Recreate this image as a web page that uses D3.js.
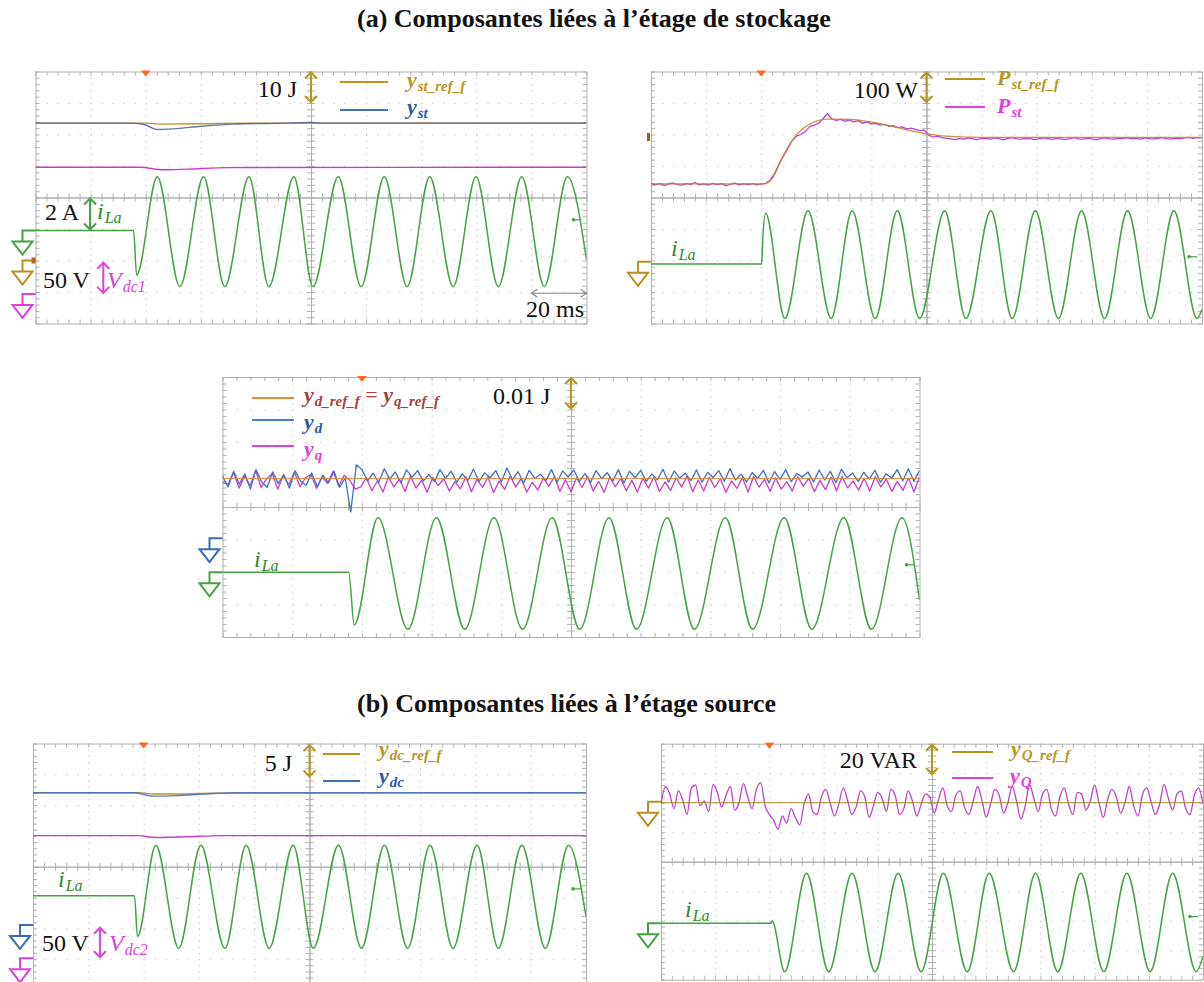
<!DOCTYPE html>
<html><head><meta charset="utf-8">
<script src="https://cdn.jsdelivr.net/npm/d3@7"></script>
<style>
body{margin:0;background:#fff;}
svg{display:block;}
</style></head><body>
<svg id="c" width="1204" height="982" font-family="'Liberation Serif','Times New Roman',serif"></svg>
<script>
// ================= DATA =================
const timeDomain = [0, 200];              // ms, 20 ms/div
const divDomain = [-4, 4];                // screen divisions
const gridTimeTicks = [20, 40, 60, 80, 120, 140, 160, 180];
const gridDivTicks = [-3, -2, -1, 1, 2, 3];
const minorTimeTicks = d3.range(0, 51).map(i => i * 4);
const minorDivTicks = d3.range(0, 41).map(i => -4 + i * 0.2);
const titles = ["(a) Composantes liées à l’étage de stockage", "(b) Composantes liées à l’étage source"];
const triggerTime = 40;

// --- panel (a) storage: y_st, V_dc1, i_La ---
const ystRef = [[0,2.36],[40,2.36],[45,2.33],[60,2.34],[75,2.36],[200,2.36]];
const yst = [[0,2.36],[35,2.36],[40,2.30],[44,2.16],[50,2.18],[60,2.26],[72,2.33],[90,2.36],[100,2.38],[104,2.36],[200,2.36]];
const vdc1 = [[0,0.96],[38,0.96],[46,0.88],[55,0.90],[70,0.95],[200,0.96]];
const iLaP1 = [[0,-1.05],[35.6,-1.05],[36.7,-2.46],[44.2,0.66],[52.4,-2.83],[61.0,0.66],[68.7,-2.83],[77.5,0.66],[84.7,-2.83],[93.8,0.66],[100.7,-2.83],[109.9,0.66],[118.2,-2.83],[126.6,0.66],[134.9,-2.83],[143.1,0.66],[151.6,-2.83],[159.9,0.66],[168.0,-2.83],[176.5,0.66],[184.7,-2.83],[193.1,0.66],[200,-1.98]];

// --- panel (a) storage power ---
const pstRef = [[0,0.43],[40.8,0.43],[44,0.6],[47.2,1.19],[51.4,1.83],[57,2.30],[64,2.49],[72.4,2.48],[82.2,2.36],[90.4,2.20],[100.4,2.02],[107.2,1.95],[121.3,1.91],[200,1.91]];
const pstVals = [0.45,0.40,0.44,0.38,0.43,0.46,0.41,0.39,0.44,0.42,0.47,0.40,0.43,0.39,0.45,0.41,0.44,0.38,0.42,0.46,0.40,0.43,0.41,0.44,0.40,0.43,
 0.45,0.55,0.75,1.05,1.30,1.55,1.80,1.95,2.00,2.10,2.25,2.30,2.35,2.50,2.66,
 2.50,2.45,2.48,2.42,2.46,2.40,2.44,2.36,2.40,2.33,2.35,2.30,2.32,2.26,2.28,2.22,2.24,2.18,2.20,2.16,2.12,2.14,
 1.98,1.92,1.95,1.90,1.88,1.86,1.84,1.87,1.85,1.89,1.86,1.84,1.88,1.87,1.85,1.89,1.86,1.83,1.88,1.90,1.86,1.85,1.88,1.87,1.84,1.86,1.89,1.87,1.85,1.88,1.86,1.84,1.87,1.90,1.86,1.85,1.88,1.86,1.83,1.87,1.89,1.86,1.85,1.88,1.87,1.90,1.86,1.88,1.85,1.89,1.87,1.86,1.88,1.90,1.87,1.85,1.88,1.86,1.89,1.91,1.88,1.90,1.89];
const iLaP2 = [[0,-2.11],[40.2,-2.11],[40.4,-1.6],[41.6,-0.5],[48.6,-3.84],[57.0,-0.42],[65.4,-3.84],[73.0,-0.42],[81.4,-3.84],[89.4,-0.42],[97.5,-3.84],[106.6,-0.42],[114.3,-3.84],[123.4,-0.42],[131.1,-3.84],[139.5,-0.42],[147.9,-3.84],[156.3,-0.42],[164.6,-3.84],[173.0,-0.42],[181.4,-3.84],[189.8,-0.42],[198.2,-3.84],[200,-3.55]];

// --- panel (a) dq components ---
const ydqRef = [[0,0.88],[200,0.88]];
const ydVals = [0.95,0.62,1.10,0.70,1.02,0.55,1.15,0.78,0.60,1.08,0.72,1.00,0.58,1.12,0.80,0.66,1.05,0.62,0.98,0.74,1.10,0.60,0.90,
 -0.15,1.30,
 1.15,0.80,1.04,0.76,1.18,0.86,1.08,0.74,1.14,0.92,1.12,0.80,1.00,0.78,1.15,0.88,1.10,0.76,1.02,0.82,1.16,0.79,1.05,0.90,1.12,0.77,1.20,0.84,1.09,0.74,
 1.13,0.88,1.01,0.81,1.15,0.76,1.11,0.92,1.14,0.79,1.03,0.75,1.12,0.87,1.06,0.80,1.15,0.74,1.10,0.90,1.13,0.79,1.02,0.84,1.16,0.76,1.11,0.89,1.04,0.81,
 1.14,0.76,1.07,0.91,1.12,0.79,1.18,0.83,1.01,0.77,1.06,0.88,1.13,0.74,1.09,0.85,1.15,0.78,1.03,0.92,1.08,0.77,1.14,0.83,1.10,0.75,1.16,0.90,1.05,0.78,
 1.07,0.86,1.13,0.76,1.02,0.89,1.15,0.80,1.18,0.79,1.12];
const yqVals = [0.75,0.70,1.05,0.58,0.95,0.66,1.12,0.60,0.88,1.02,0.55,0.96,0.68,1.08,0.62,0.90,1.00,0.57,0.93,0.72,1.10,0.64,0.98,0.82,0.55,0.62,
 0.90,0.50,0.80,0.46,0.92,0.62,0.86,0.48,0.94,0.58,0.82,0.45,0.91,0.66,0.87,0.49,0.78,0.56,0.93,0.47,0.85,0.60,0.92,0.44,0.80,0.54,0.95,0.62,0.87,0.46,
 0.76,0.52,0.89,0.64,0.93,0.48,0.84,0.47,0.90,0.60,0.94,0.49,0.79,0.45,0.92,0.63,0.87,0.50,0.82,0.46,0.89,0.58,0.93,0.48,0.77,0.51,0.90,0.62,0.95,0.47,
 0.83,0.49,0.92,0.60,0.87,0.45,0.80,0.57,0.91,0.46,0.94,0.61,0.85,0.48,0.90,0.55,0.78,0.49,0.93,0.64,0.89,0.47,0.82,0.53,0.92,0.50,0.94,0.59,0.80,0.52,
 0.88,0.49,0.93,0.62,0.86,0.48,0.79,0.51,0.89,0.47,0.92];
const iLaP3 = [[0,-2.01],[36.2,-2.01],[37.8,-3.63],[44.6,-0.33],[53.2,-3.76],[61.4,-0.33],[69.5,-3.76],[77.9,-0.33],[86.1,-3.76],[94.6,-0.33],[102.5,-3.76],[110.9,-0.33],[118.8,-3.76],[127.6,-0.33],[135.4,-3.76],[144.3,-0.33],[152.1,-3.76],[161.2,-0.33],[169.1,-3.76],[178.3,-0.33],[186.2,-3.76],[195.0,-0.33],[200,-2.86]];

// --- panel (b) source: y_dc, V_dc2 ---
const ydcRef = [[0,2.40],[38,2.40],[44,2.36],[55,2.36],[64,2.39],[200,2.40]];
const ydc = [[0,2.40],[37,2.40],[40,2.34],[44,2.29],[52,2.31],[62,2.36],[75,2.40],[200,2.40]];
const vdc2 = [[0,1.01],[38,1.01],[44,0.95],[55,0.97],[68,1.01],[200,1.01]];
const iLaP4 = [[0,-0.94],[36.7,-0.94],[37.8,-2.27],[44.4,0.70],[52.7,-2.65],[60.7,0.70],[69.4,-2.65],[77.1,0.70],[85.4,-2.65],[94.1,0.70],[101.4,-2.65],[110.5,0.70],[118.8,-2.65],[127.1,0.70],[135.5,-2.65],[143.6,0.70],[151.9,-2.65],[160.6,0.70],[168.3,-2.65],[176.8,0.70],[185.3,-2.65],[193.7,0.70],[200,-1.62]];

// --- panel (b) reactive ---
const yQRef = [[0,2.0],[200,2.0]];
const yQVals = [1.95,2.55,2.30,1.80,2.40,2.10,1.60,2.50,2.60,1.90,2.05,1.70,2.62,2.35,1.85,2.25,2.55,1.75,2.00,2.65,2.20,1.80,2.45,2.68,1.90,1.60,
 1.40,1.10,1.55,1.30,1.80,1.50,1.25,1.95,2.30,1.70,
 1.60,2.20,2.45,2.00,1.55,1.95,2.50,2.10,1.60,1.85,2.40,2.20,1.50,1.90,2.35,2.15,1.70,2.45,2.25,1.60,1.80,2.40,2.05,1.55,1.95,2.30,2.20,1.65,2.10,2.50,
 1.90,1.70,2.25,2.40,1.85,1.60,2.05,2.55,2.10,1.50,1.95,2.45,2.25,1.65,2.00,2.55,2.05,1.45,1.90,2.60,2.15,1.70,2.30,2.45,1.80,1.55,2.20,2.50,1.95,1.60,
 2.35,2.30,1.75,2.05,2.60,2.00,1.50,2.10,2.45,2.20,1.65,2.00,2.55,1.90,1.55,2.25,2.50,2.05,1.60,1.95,2.62,2.15,1.75,2.30,2.40,1.80,1.60,2.25,2.50,1.95];
const iLaP5 = [[0,-2.09],[40.6,-2.09],[41.0,-2.0],[45.6,-3.73],[53.7,-0.39],[61.9,-3.73],[70.5,-0.39],[79.0,-3.73],[87.5,-0.39],[96.0,-3.73],[104.2,-0.39],[113.0,-3.73],[121.1,-0.39],[130.1,-3.73],[138.2,-0.39],[146.4,-3.73],[154.9,-0.39],[163.4,-3.73],[171.9,-0.39],[180.5,-3.73],[188.8,-0.39],[197.5,-3.73],[200,-3.2]];

const sampled = vals => vals.map((v, i) => [i * (timeDomain[1] - timeDomain[0]) / (vals.length - 1), v]);

// ================= STYLE =================
const C = {
  green: "#45a345", greenTxt: "#2e8b2e", mag: "#cc3ccc", magTxt: "#e040e0",
  gold: "#c8903a", goldTxt: "#b8961e", blue: "#3f6fb5", blueTxt: "#2a5aa8",
  orange: "#e8883a", red: "#a8403c", grid: "#c6c6c6", axis: "#b0b0b0"
};
const FONT = "'Liberation Serif','Times New Roman',serif";

const svg = d3.select("#c");
svg.append("rect").attr("width", 1204).attr("height", 982).attr("fill", "#fff");
const defs = svg.append("defs");

svg.append("text").attr("x", 357).attr("y", 27).attr("font-family", FONT).attr("font-size", 26).attr("font-weight", "bold").attr("fill", "#111").text(titles[0]);
svg.append("text").attr("x", 357).attr("y", 712).attr("font-family", FONT).attr("font-size", 26).attr("font-weight", "bold").attr("fill", "#111").text(titles[1]);

function panel(cfg) {
  const x = d3.scaleLinear().domain(timeDomain).range([cfg.x, cfg.x + cfg.w]);
  const y = d3.scaleLinear().domain(divDomain).range([cfg.y + cfg.h, cfg.y]);
  const g = svg.append("g");
  const mx = cfg.w / 50, my = cfg.h / 40;
  g.append("g").attr("transform", `translate(0,${cfg.y})`)
    .call(d3.axisBottom(x).tickValues(gridTimeTicks).tickSize(cfg.h).tickSizeOuter(0).tickFormat(""))
    .call(a => { a.select(".domain").remove(); a.selectAll("line").attr("stroke", C.grid).attr("stroke-dasharray", `1.3 ${my - 1.3}`); });
  g.append("g").attr("transform", `translate(${cfg.x},0)`)
    .call(d3.axisRight(y).tickValues(gridDivTicks).tickSize(cfg.w).tickSizeOuter(0).tickFormat(""))
    .call(a => { a.select(".domain").remove(); a.selectAll("line").attr("stroke", C.grid).attr("stroke-dasharray", `1.3 ${mx - 1.3}`); });
  const tickAxis = (axis, tx, ty, vals, size) => {
    g.append("g").attr("transform", `translate(${tx},${ty})`)
      .call(axis.tickValues(vals).tickSizeInner(size).tickSizeOuter(0).tickFormat(""))
      .call(a => { a.select(".domain").attr("stroke", C.axis); a.selectAll("line").attr("stroke", C.axis); });
  };
  tickAxis(d3.axisBottom(x), 0, y(0), minorTimeTicks, 4);
  tickAxis(d3.axisTop(x), 0, y(0), minorTimeTicks, 4);
  tickAxis(d3.axisLeft(y), x(100), 0, minorDivTicks, 4);
  tickAxis(d3.axisRight(y), x(100), 0, minorDivTicks, 4);
  tickAxis(d3.axisBottom(x), 0, cfg.y, minorTimeTicks, 4);
  tickAxis(d3.axisTop(x), 0, cfg.y + cfg.h, minorTimeTicks, 4);
  tickAxis(d3.axisRight(y), cfg.x, 0, minorDivTicks, 4);
  tickAxis(d3.axisLeft(y), cfg.x + cfg.w, 0, minorDivTicks, 4);
  g.selectAll("text").remove();

  defs.append("clipPath").attr("id", "clip" + cfg.id).append("rect")
    .attr("x", cfg.x).attr("y", cfg.y).attr("width", cfg.w).attr("height", cfg.h);
  const tg = g.append("g").attr("clip-path", `url(#clip${cfg.id})`);
  const curves = { smooth: d3.curveMonotoneX, raw: d3.curveLinear };
  cfg.traces.forEach(tr => {
    const line = d3.line().x(d => x(d[0])).y(d => y(d[1])).curve(curves[tr.curve || "raw"]);
    tg.append("path").datum(tr.data).attr("d", line)
      .attr("fill", "none").attr("stroke", tr.color).attr("stroke-width", tr.width || 1.4)
      .attr("stroke-opacity", tr.opacity || 1).attr("stroke-linejoin", "round");
  });
  const tx = x(triggerTime);
  g.append("path").attr("d", `M${tx - 5},${cfg.y - 1}H${tx + 5}L${tx},${cfg.y + 5}Z`).attr("fill", "#ff6a20");
  return { x, y, g, cfg };
}

function ground(p, yv, color) {
  const x0 = p.cfg.x, yp = p.y(yv);
  p.g.append("path").attr("d", `M${x0},${yp}H${x0 - 13}V${yp + 11}`).attr("fill", "none").attr("stroke", color).attr("stroke-width", 2);
  p.g.append("path").attr("d", `M${x0 - 23},${yp + 11}H${x0 - 3}L${x0 - 13},${yp + 24}Z`).attr("fill", "#fff").attr("stroke", color).attr("stroke-width", 2);
}
function rightMark(p, yv) {
  const x1 = p.cfg.x + p.cfg.w, yp = p.y(yv);
  p.g.append("line").attr("x1", x1 - 13).attr("x2", x1 - 5).attr("y1", yp).attr("y2", yp).attr("stroke", C.green).attr("stroke-width", 1.2);
  p.g.append("circle").attr("cx", x1 - 13).attr("cy", yp).attr("r", 1.8).attr("fill", C.green);
}
function vArrow(p, t, y1, y2, color) {
  const xp = p.x(t), a = p.y(y1), b = p.y(y2);
  p.g.append("path").attr("d", `M${xp},${a}V${b}M${xp - 6},${a + 7}L${xp},${a + 1}L${xp + 6},${a + 7}M${xp - 6},${b - 7}L${xp},${b - 1}L${xp + 6},${b - 7}`)
    .attr("fill", "none").attr("stroke", color).attr("stroke-width", 2);
}
function legLine(g, x1, x2, yp, color) {
  g.append("line").attr("x1", x1).attr("x2", x2).attr("y1", yp).attr("y2", yp).attr("stroke", color).attr("stroke-width", 2);
}
function txt(g, x, y, parts, anchor) {
  const t = g.append("text").attr("x", x).attr("y", y).attr("text-anchor", anchor || "start").attr("font-family", FONT);
  let shift = 0;
  parts.forEach(p => {
    const ts = t.append("tspan").text(p.t).attr("font-size", p.s || 24).attr("fill", p.c || "#111")
      .attr("font-style", p.i ? "italic" : "normal").attr("font-weight", p.b ? "bold" : "normal");
    const d = p.d || 0;
    if (d - shift) ts.attr("dy", d - shift);
    if (p.dx) ts.attr("dx", p.dx);
    shift = d;
  });
}
const big = (t, c) => ({ t, c, s: 22, i: true, b: true });
const small = (t, c) => ({ t, c, s: 15, i: true, b: true, d: 4, dx: 1 });
const iLa = (g, x, y) => txt(g, x, y, [{ t: "i", c: C.greenTxt, s: 24, i: true }, { t: "La", c: C.greenTxt, s: 16, i: true, d: 4, dx: 1 }]);

// ================= PANEL 1 =================
const p1 = panel({ id: 1, x: 35.5, y: 71.5, w: 551, h: 252, traces: [
  { data: vdc1, color: C.mag, curve: "smooth" },
  { data: ystRef, color: C.gold, curve: "smooth" },
  { data: yst, color: "#47618f", curve: "smooth", opacity: 0.85 },
  { data: iLaP1, color: C.green, curve: "smooth", width: 1.5 }
]});
txt(p1.g, 297, 97, [{ t: "10 J" }], "end");
vArrow(p1, 100, 4, 3, C.goldTxt);
legLine(p1.g, 340, 388, 82, C.goldTxt);
txt(p1.g, 407, 87, [big("y", C.goldTxt), small("st_ref_f", C.goldTxt)]);
legLine(p1.g, 340, 388, 110, C.blue);
txt(p1.g, 407, 114, [big("y", C.blueTxt), small("st", C.blueTxt)]);
txt(p1.g, 45, 220, [{ t: "2 A" }]);
vArrow(p1, 19.8, 0, -1.05, C.green);
iLa(p1.g, 97, 219);
txt(p1.g, 43, 288, [{ t: "50 V" }]);
vArrow(p1, 24.6, -2.04, -3.06, C.magTxt);
txt(p1.g, 107, 288, [{ t: "V", c: C.magTxt, s: 24, i: true }, { t: "dc1", c: C.magTxt, s: 16, i: true, d: 4, dx: 1 }]);
ground(p1, -1.05, C.green);
ground(p1, -2.0, "#b8901e");
ground(p1, -3.06, C.magTxt);
p1.g.append("rect").attr("x", p1.cfg.x - 4).attr("y", p1.y(-2.0) - 3).attr("width", 4).attr("height", 6).attr("fill", "#b06a20");
rightMark(p1, -0.71);
{
  const a = p1.x(180), b = p1.x(200), yp = p1.y(-3.04);
  p1.g.append("path").attr("d", `M${a},${yp}H${b}M${a + 6},${yp - 4}L${a},${yp}L${a + 6},${yp + 4}M${b - 6},${yp - 4}L${b},${yp}L${b - 6},${yp + 4}`)
    .attr("fill", "none").attr("stroke", "#8a8a8a").attr("stroke-width", 1.2);
  txt(p1.g, 584, 317, [{ t: "20 ms" }], "end");
}

// ================= PANEL 2 =================
const p2 = panel({ id: 2, x: 651, y: 71.5, w: 551, h: 252, traces: [
  { data: sampled(pstVals), color: "#c040c8", width: 1.3 },
  { data: pstRef, color: "#b8882e", curve: "smooth", width: 1.3, opacity: 0.9 },
  { data: iLaP2, color: C.green, curve: "smooth", width: 1.5 }
]});
txt(p2.g, 918, 98, [{ t: "100 W" }], "end");
vArrow(p2, 100, 4, 3, C.goldTxt);
legLine(p2.g, 945, 985, 79, C.goldTxt);
txt(p2.g, 997, 85, [big("P", C.goldTxt), small("st_ref_f", C.goldTxt)]);
legLine(p2.g, 945, 985, 107, C.magTxt);
txt(p2.g, 997, 113, [big("P", C.magTxt), small("st", C.magTxt)]);
iLa(p2.g, 671, 256);
ground(p2, -2.04, "#b8901e");
p2.g.append("rect").attr("x", p2.cfg.x - 4).attr("y", p2.y(1.92) - 4).attr("width", 3).attr("height", 8).attr("fill", "#a0601e");
rightMark(p2, -1.88);

// ================= PANEL 3 =================
const p3 = panel({ id: 3, x: 222.5, y: 377, w: 697, h: 260, traces: [
  { data: sampled(yqVals), color: C.mag, width: 1.3 },
  { data: sampled(ydVals), color: "#3a72c4", width: 1.3 },
  { data: ydqRef, color: C.orange, width: 1 },
  { data: iLaP3, color: C.green, curve: "smooth", width: 1.5 }
]});
legLine(p3.g, 252, 294, 398, C.orange);
txt(p3.g, 304, 402, [big("y", C.red), small("d_ref_f", C.red), { t: " = ", c: C.red, s: 22, d: 0 }, big("y", C.red), small("q_ref_f", C.red)]);
txt(p3.g, 493, 404, [{ t: "0.01 J" }]);
vArrow(p3, 100, 4, 3, C.goldTxt);
legLine(p3.g, 252, 294, 420, "#4a80c8");
txt(p3.g, 304, 429, [big("y", C.blueTxt), small("d", C.blueTxt)]);
legLine(p3.g, 252, 294, 446, C.magTxt);
txt(p3.g, 304, 456, [big("y", C.magTxt), small("q", C.magTxt)]);
iLa(p3.g, 254, 567);
ground(p3, -0.96, "#3a6ab8");
ground(p3, -2.01, C.green);
rightMark(p3, -1.78);

// ================= PANEL 4 =================
const p4 = panel({ id: 4, x: 33, y: 743.5, w: 553, h: 246.4, traces: [
  { data: vdc2, color: C.mag, curve: "smooth" },
  { data: ydcRef, color: C.gold, curve: "smooth" },
  { data: ydc, color: "#3a70c0", curve: "smooth", opacity: 0.85 },
  { data: iLaP4, color: C.green, curve: "smooth", width: 1.5 }
]});
txt(p4.g, 292, 771, [{ t: "5 J" }], "end");
vArrow(p4, 100, 3.98, 2.9, C.goldTxt);
legLine(p4.g, 323, 360, 754, C.goldTxt);
txt(p4.g, 379, 756, [big("y", C.goldTxt), small("dc_ref_f", C.goldTxt)]);
legLine(p4.g, 323, 360, 781, C.blue);
txt(p4.g, 379, 783, [big("y", C.blueTxt), small("dc", C.blueTxt)]);
iLa(p4.g, 58, 887);
txt(p4.g, 42, 951, [{ t: "50 V" }]);
vArrow(p4, 24.2, -1.95, -2.97, C.magTxt);
txt(p4.g, 109, 951, [{ t: "V", c: C.magTxt, s: 24, i: true }, { t: "dc2", c: C.magTxt, s: 16, i: true, d: 4, dx: 1 }]);
ground(p4, -1.89, "#3a6ab8");
ground(p4, -2.97, C.magTxt);
rightMark(p4, -0.72);

// ================= PANEL 5 =================
const p5 = panel({ id: 5, x: 661, y: 743.7, w: 542, h: 236, traces: [
  { data: sampled(yQVals), color: "#c040c8", width: 1.3, curve: "smooth" },
  { data: yQRef, color: "#b08a30", width: 1 },
  { data: iLaP5, color: C.green, curve: "smooth", width: 1.5 }
]});
txt(p5.g, 917, 768, [{ t: "20 VAR" }], "end");
vArrow(p5, 100, 4, 2.94, C.goldTxt);
legLine(p5.g, 952, 993, 752, C.goldTxt);
txt(p5.g, 1011, 756, [big("y", C.goldTxt), small("Q_ref_f", C.goldTxt)]);
legLine(p5.g, 952, 993, 778, C.magTxt);
txt(p5.g, 1010, 783, [big("y", C.magTxt), small("Q", C.magTxt)]);
iLa(p5.g, 685, 917);
ground(p5, 2.03, "#b8901e");
ground(p5, -2.09, C.green);
rightMark(p5, -1.86);
</script>
</body></html>
